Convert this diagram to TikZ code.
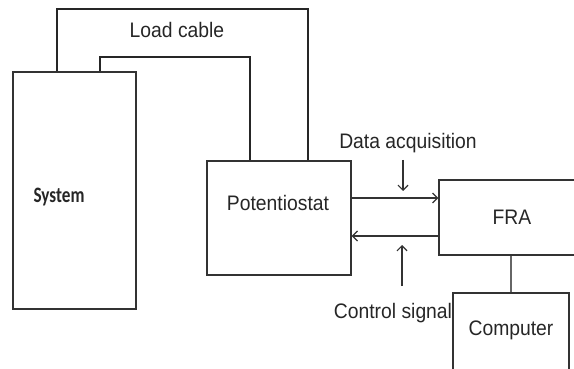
\documentclass[tikz,border=0pt]{standalone}
\usepackage{fontspec}
\setmainfont{Liberation Sans}[FakeStretch=0.92]
\newfontfamily\calibrifont{Carlito}[FakeStretch=0.78]
\usetikzlibrary{arrows.meta, positioning, calc}

\begin{document}
\begin{tikzpicture}[
  x=1pt, y=-1pt,
  box/.style  = {draw=black!80, line width=1.3pt, inner sep=0pt},
  lbl/.style  = {font=\fontsize{21}{24}\selectfont, text=black!85, inner sep=0pt},
  cable/.style = {draw=black!85, line width=1.2pt},
  flow/.style = {draw=black!80, line width=1.2pt, -{Straight Barb[length=5pt,width=10pt]}}
]
  \useasboundingbox (0,0) rectangle (574,369);
  \clip (0,0) rectangle (574,369);

  % Boxes
  \node[box, minimum width=123pt, minimum height=237pt] (system) at (74.5,190.5) {};
  \node[box, minimum width=144pt, minimum height=114pt] (pot) at (279,218) {};
  \node[box, minimum width=146pt, minimum height=75pt, lbl] (fra) at (512,217.5) {FRA};
  \node[box, minimum width=116pt, minimum height=90pt] (comp) at (511,338) {};

  % Box texts
  \node[inner sep=0pt, font=\calibrifont\bfseries\fontsize{22}{25}\selectfont, text=black!85] (systxt) at (59,197) {System};
  \node[lbl] (pottxt) at (278,203) {Potentiostat};
  \node[lbl] (comptxt) at (511,330) {Computer};

  % Load cable
  \coordinate (outA) at (57,9);
  \coordinate (outB) at (308,9);
  \coordinate (inA) at (100,57);
  \coordinate (inB) at (250,57);
  \draw[cable] (outA |- system.north) -- (outA) -- (outB) -- (outB |- pot.north);
  \draw[cable] (inA |- system.north) -- (inA) -- (inB) -- (inB |- pot.north);
  \node[lbl] (loadtxt) at (177,30) {Load cable};

  % Signals between potentiostat and FRA
  \draw[flow] ([yshift=20pt]pot.east) -- ([yshift=20pt]pot.east -| fra.west);
  \draw[flow] ([yshift=-18pt]pot.east -| fra.west) -- ([yshift=-18pt]pot.east);

  \node[lbl] (daq) at (408,143) {Data acquisition};
  \coordinate (daqA) at (403,160);
  \coordinate (daqB) at (403,191);
  \draw[flow] (daqA) -- (daqB);

  \node[lbl] (ctrl) at (393,313) {Control signal};
  \coordinate (ctrlA) at (402,286);
  \coordinate (ctrlB) at (402,245);
  \draw[flow] (ctrlA) -- (ctrlB);

  % FRA to computer
  \draw[cable, draw=black!60] (comp.north) -- (comp.north |- fra.south);

\end{tikzpicture}
\end{document}
